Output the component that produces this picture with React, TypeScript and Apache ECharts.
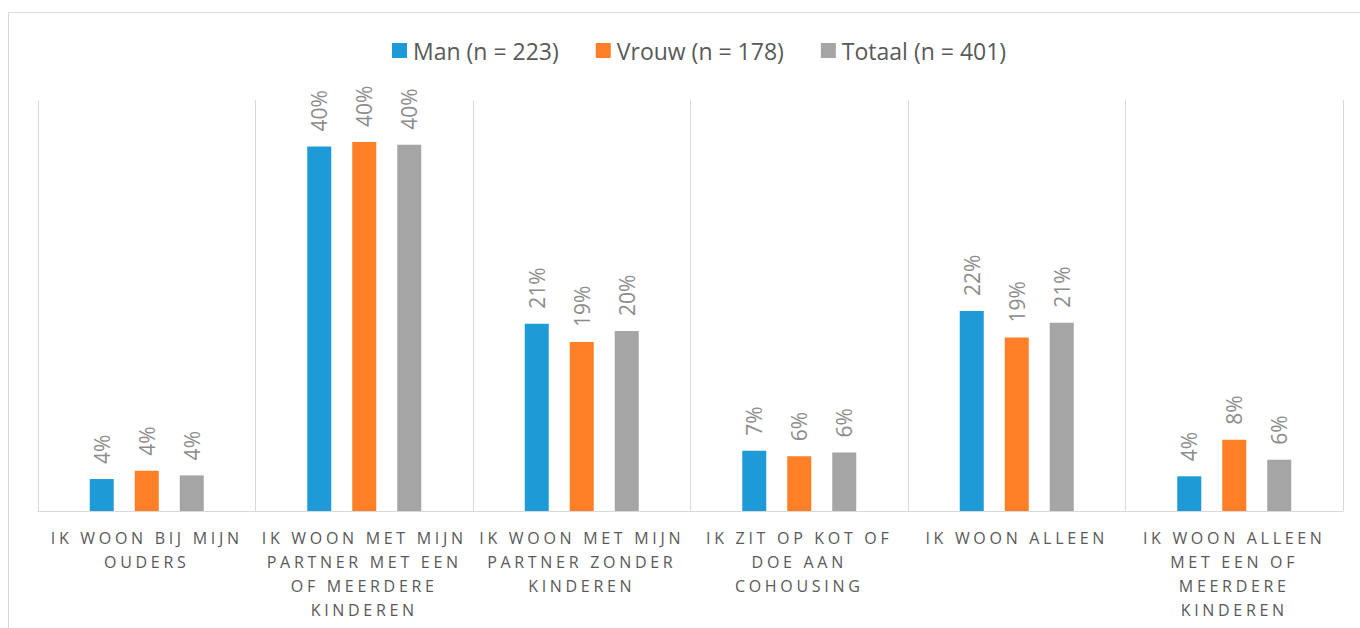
import React, { useEffect, useRef } from "react";
import * as echarts from "echarts";

const categories = [
  "IK WOON BIJ MIJN\nOUDERS",
  "IK WOON MET MIJN\nPARTNER MET EEN\nOF MEERDERE\nKINDEREN",
  "IK WOON MET MIJN\nPARTNER ZONDER\nKINDEREN",
  "IK ZIT OP KOT OF\nDOE AAN\nCOHOUSING",
  "IK WOON ALLEEN",
  "IK WOON ALLEEN\nMET EEN OF\nMEERDERE\nKINDEREN",
];
const seriesNames = ["Man (n = 223)", "Vrouw (n = 178)", "Totaal (n = 401)"];
const manValues = [3.5, 39.9, 20.5, 6.6, 21.9, 3.8];
const vrouwValues = [4.4, 40.4, 18.5, 6.0, 19.0, 7.8];
const totaalValues = [3.9, 40.1, 19.7, 6.4, 20.6, 5.6];
const colors = ["#1E9BD7", "#FE7F26", "#A5A5A5"];

export default function App() {
  const ref = useRef<HTMLDivElement>(null);
  useEffect(() => {
    document.body.style.margin = "0";
    const el = ref.current!;
    const chart = echarts.init(el, null, { renderer: "svg" });
    const labelLines = new Set<string>();
    categories.forEach((c) => c.split("\n").forEach((l) => labelLines.add(l)));
    const allValues = [manValues, vrouwValues, totaalValues];
    const font = "'Open Sans', sans-serif";
    chart.setOption({
      animation: false,
      backgroundColor: "#ffffff",
      color: colors,
      legend: {
        top: 34,
        left: 387,
        itemWidth: 15,
        itemHeight: 15,
        itemGap: 37,
        icon: "rect",
        textStyle: { color: "#595959", fontSize: 23, fontFamily: font, padding: [0, 0, 0, 1] },
        data: seriesNames,
      },
      graphic: [
        {
          type: "rect",
          shape: { x: 8.5, y: 12.5, width: 1400, height: 700 },
          style: { fill: "none", stroke: "#d9d9d9", lineWidth: 1 },
          silent: true,
        },
      ],
      grid: { left: 38, right: 17, top: 100, bottom: 117, containLabel: false },
      xAxis: {
        type: "category",
        data: categories,
        axisLine: { show: true, lineStyle: { color: "#d9d9d9", width: 1 } },
        axisTick: { show: false },
        splitLine: { show: true, interval: 0, lineStyle: { color: "#d9d9d9", width: 1 } },
        axisLabel: {
          interval: 0,
          margin: 15,
          color: "#595959",
          fontSize: 16,
          lineHeight: 24,
          fontFamily: font,
        },
      },
      yAxis: {
        type: "value",
        min: 0,
        max: 45,
        interval: 5,
        show: false,
        splitLine: { show: false },
      },
      series: seriesNames.map((name, i) => ({
        name,
        type: "bar",
        data: allValues[i],
        barWidth: 24,
        barGap: "87.5%",
        itemStyle: { color: colors[i] },
        label: {
          show: true,
          position: "top",
          rotate: 90,
          align: "left",
          verticalAlign: "middle",
          distance: 15,
          color: "#8c8c8c",
          fontSize: 21,
          fontFamily: font,
          formatter: (p: any) => Math.round(p.value) + "%",
        },
      })),
    });
    const applySpacing = () => {
      el.querySelectorAll("text").forEach((t) => {
        const s = (t.textContent || "").trim();
        if (labelLines.has(s)) {
          (t as SVGTextElement).style.letterSpacing = "3.7px";
        }
      });
    };
    applySpacing();
    chart.on("finished", applySpacing);
    return () => {
      chart.dispose();
    };
  }, []);
  return <div ref={ref} style={{ width: 1360, height: 628 }} />;
}
